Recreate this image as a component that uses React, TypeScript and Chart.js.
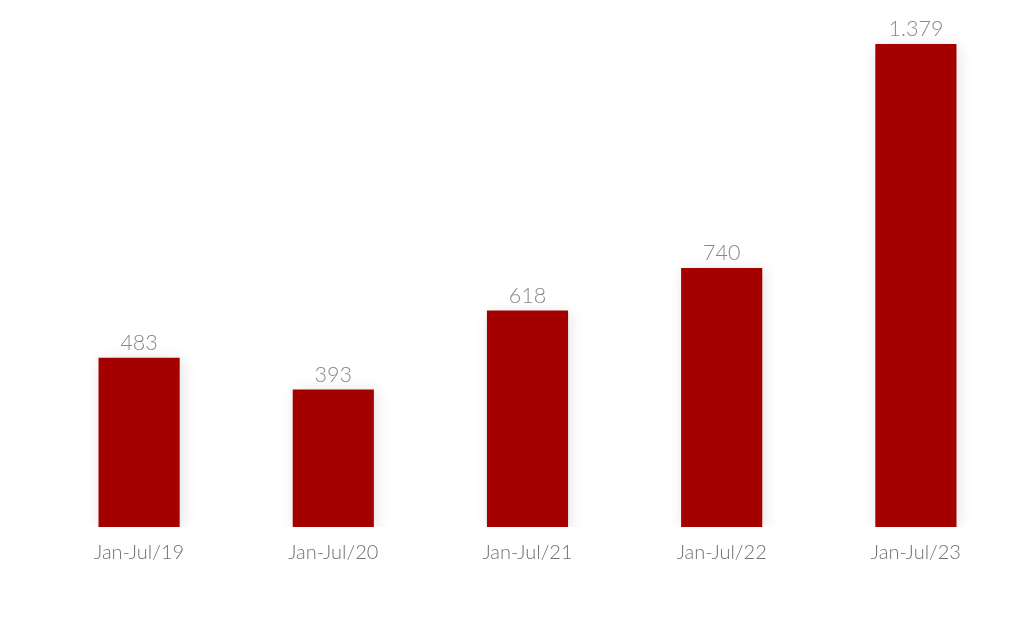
import React, { useEffect, useRef } from "react";
import { Chart, registerables } from "chart.js";

Chart.register(...registerables);

const categories = ["Jan-Jul/19", "Jan-Jul/20", "Jan-Jul/21", "Jan-Jul/22", "Jan-Jul/23"];
const values = [483, 393, 618, 740, 1379];
const valueLabels = ["483", "393", "618", "740", "1.379"];

const BAR_COLOR = "#a50000";

const shadowPlugin = {
  id: "barShadow",
  beforeDatasetsDraw(chart: any) {
    const ctx = chart.ctx;
    ctx.save();
    ctx.shadowColor = "rgba(0,0,0,0.12)";
    ctx.shadowBlur = 14;
    ctx.shadowOffsetX = 2;
    ctx.shadowOffsetY = 2;
  },
  afterDatasetsDraw(chart: any) {
    chart.ctx.restore();
  },
};

const valueLabelPlugin = {
  id: "valueLabels",
  afterDraw(chart: any) {
    const ctx = chart.ctx;
    const meta = chart.getDatasetMeta(0);
    ctx.save();
    ctx.font = "300 21.5px Lato";
    ctx.fillStyle = "#888";
    ctx.textAlign = "center";
    ctx.textBaseline = "bottom";
    meta.data.forEach((bar: any, i: number) => {
      ctx.fillText(valueLabels[i], bar.x, bar.y - 4);
    });
    ctx.restore();
  },
};

export default function App() {
  const ref = useRef<HTMLCanvasElement>(null);
  useEffect(() => {
    document.body.style.margin = "0";
    const chart = new Chart(ref.current!, {
      type: "bar",
      data: {
        labels: categories,
        datasets: [
          {
            data: values,
            backgroundColor: BAR_COLOR,
            borderWidth: 0,
            barPercentage: 0.418,
            categoryPercentage: 1,
          },
        ],
      },
      options: {
        animation: false,
        responsive: false,
        layout: { padding: { left: 42, right: 11, top: 0, bottom: 65 } },
        plugins: { legend: { display: false }, tooltip: { enabled: false } },
        scales: {
          y: { display: false, min: 0, max: 1505 },
          x: {
            grid: { display: false, drawTicks: false },
            border: { display: false },
            ticks: {
              color: "#707070",
              font: { family: "Lato", weight: "300", size: 20 },
              padding: 14,
            },
          },
        },
      },
      plugins: [shadowPlugin, valueLabelPlugin],
    });
    return () => chart.destroy();
  }, []);
  return (
    <div style={{ position: "absolute", left: 0, top: 0, width: 1024, height: 644, background: "#fff" }}>
      <canvas ref={ref} width={1024} height={644} />
    </div>
  );
}
